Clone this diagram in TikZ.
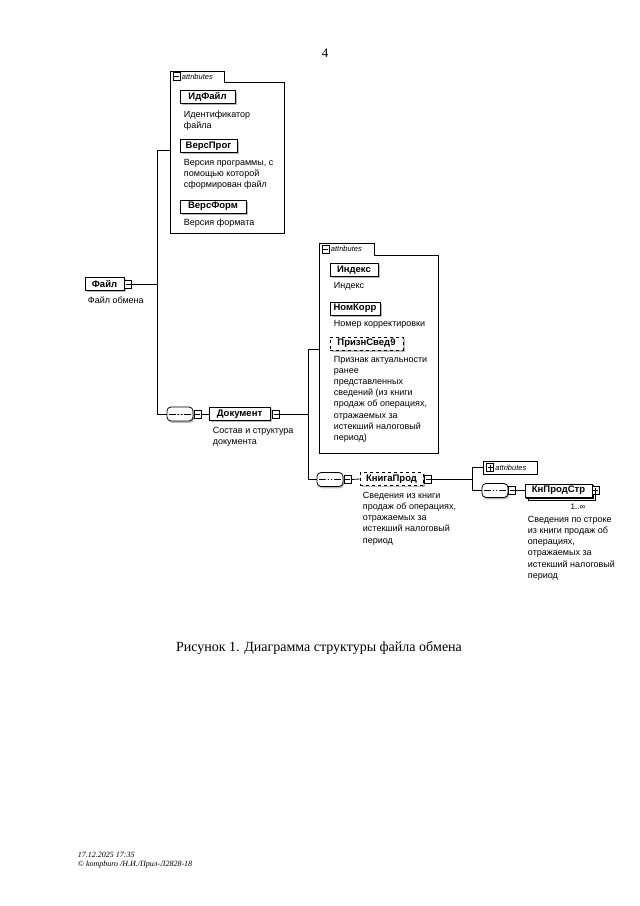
\documentclass[tikz,border=0pt]{standalone}
\usepackage{fontspec}
\setmainfont{Liberation Serif}
\newfontfamily\dgfont{Liberation Sans}
\usetikzlibrary{shadows}

\begin{document}
\begin{tikzpicture}[x=1pt,y=1pt,yscale=-1,xscale=1,
    conn/.style={line width=0.8pt},
    attrbox/.style={line width=0.8pt},
    elembase/.style={draw, fill=white, line width=0.8pt, inner xsep=3pt, inner ysep=1.5pt, minimum height=13pt, font=\dgfont\bfseries\fontsize{9.5}{11}\selectfont},
    elem/.style={elembase, drop shadow={shadow xshift=1.8pt, shadow yshift=-1.8pt, fill=gray!55, opacity=1}},
    optelem/.style={elem, dashed},
    multelem/.style={elembase, double copy shadow={shadow xshift=1.5pt, shadow yshift=-1.5pt}},
    toggle/.style={draw, fill=white, line width=0.6pt, minimum width=7pt, minimum height=8pt, inner sep=0pt},
    tglminus/.style={toggle, path picture={\draw [line width=0.5pt] ([xshift=1pt]path picture bounding box.west) -- ([xshift=-1pt]path picture bounding box.east);}},
    tglplus/.style={toggle, path picture={\draw [line width=0.5pt] ([xshift=1pt]path picture bounding box.west) -- ([xshift=-1pt]path picture bounding box.east) ([yshift=-1pt]path picture bounding box.north) -- ([yshift=1pt]path picture bounding box.south);}},
    seq/.style={draw, fill=white, rounded corners=4pt, line width=0.8pt, minimum width=26pt, minimum height=14pt, inner sep=0pt, drop shadow={shadow xshift=1.2pt, shadow yshift=-1.8pt, fill=gray!55, opacity=1},
        path picture={\draw [line width=0.7pt] ([xshift=2pt]path picture bounding box.west) -- ([xshift=-2pt]path picture bounding box.east);
            \fill ([xshift=-3.2pt]path picture bounding box.center) circle (1.1pt) (path picture bounding box.center) circle (1.1pt) ([xshift=3.2pt]path picture bounding box.center) circle (1.1pt);}},
    desc/.style={anchor=north west, inner sep=0.75pt, align=left, font=\dgfont\fontsize{9}{11.2}\selectfont},
    tabtxt/.style={anchor=west, inner sep=0.75pt, font=\dgfont\itshape\fontsize{7.5}{9}\selectfont}]

    \fill [white] (0,0) rectangle (640,906);
    \useasboundingbox (0,0) rectangle (640,906);

    % Text Node
    \draw (325,53) node (pgNum) [font=\fontsize{13}{15}\selectfont] {4};

    %Element: Файл
    \node (fajl) [elem, minimum width=39] at (104.5,284) {Файл};
    \node (fajlTgl) [tglminus] at (128,284) {};
    \draw (87,296) node (fajlTxt) [desc] {Файл обмена};

    %Shape: attributes of Файл
    \draw [attrbox] (170,71) -- (224,71) -- (224,82) -- (284,82) -- (284,233) -- (170,233) -- cycle;
    \node (attrFajlTgl) [tglminus] at (176.5,76.5) {};
    \node (attrFajlTab) [tabtxt] at (181,76.5) {attributes};
    \coordinate (attrFajlIn) at (170,150);
    \node (idFajl) [elem, minimum width=55] at (207.5,97) {ИдФайл};
    \draw (183,110) node (idFajlTxt) [desc] {Идентификатор\\файла};
    \node (versProg) [elem, minimum width=57] at (208.5,146) {ВерсПрог};
    \draw (183,158) node (versProgTxt) [desc] {Версия программы, с\\помощью которой\\сформирован файл};
    \node (versForm) [elem, minimum width=66] at (213,206.5) {ВерсФорм};
    \draw (183,218) node (versFormTxt) [desc] {Версия формата};

    %Element: Документ
    \node (seqFajl) [seq] at (180,414) {};
    \node (seqFajlTgl) [tglminus] at (197.5,414) {};
    \node (dokument) [elem, minimum width=61] at (239.5,414) {Документ};
    \node (dokumentTgl) [tglminus] at (276,414) {};
    \draw (212,426) node (dokumentTxt) [desc] {Состав и структура\\документа};

    %Connectors of Файл
    \coordinate (busFajl) at (157,284);
    \draw [conn] (fajlTgl.east) -- (busFajl);
    \draw [conn] (busFajl) |- (attrFajlIn);
    \draw [conn] (busFajl) |- (seqFajl.west);
    \draw [conn] (seqFajlTgl.east) -- (dokument.west);

    %Shape: attributes of Документ
    \draw [attrbox] (319,243) -- (374,243) -- (374,255) -- (438,255) -- (438,453) -- (319,453) -- cycle;
    \node (attrDokTgl) [tglminus] at (325.5,249) {};
    \node (attrDokTab) [tabtxt] at (330,249) {attributes};
    \coordinate (attrDokIn) at (319,349);
    \node (indeks) [elem, minimum width=48] at (354,270) {Индекс};
    \draw (333,281) node (indeksTxt) [desc] {Индекс};
    \node (nomKorr) [elem, minimum width=50] at (355,308.5) {НомКорр};
    \draw (333,319) node (nomKorrTxt) [desc] {Номер корректировки};
    \node (priznSved) [optelem, minimum width=73] at (366.5,343.5) {ПризнСвед9};
    \draw (333,355) node (priznSvedTxt) [desc] {Признак актуальности\\ранее\\представленных\\сведений (из книги\\продаж об операциях,\\отражаемых за\\истекший налоговый\\период)};

    %Element: КнигаПрод
    \node (seqDok) [seq] at (330,479.5) {};
    \node (seqDokTgl) [tglminus] at (347.5,479.5) {};
    \node (knigaProd) [optelem, minimum width=63] at (391.5,479) {КнигаПрод};
    \node (knigaProdTgl) [tglminus] at (428,479) {};
    \draw (362,491) node (knigaProdTxt) [desc] {Сведения из книги\\продаж об операциях,\\отражаемых за\\истекший налоговый\\период};

    %Connectors of Документ
    \coordinate (busDok) at (308,414);
    \draw [conn] (dokumentTgl.east) -- (busDok);
    \draw [conn] (busDok) |- (attrDokIn);
    \draw [conn] (busDok) |- (seqDok.west);
    \draw [conn] (seqDokTgl.east) -- (knigaProd.west);

    %Element: КнПродСтр
    \node (attrKniga) [draw, fill=white, line width=0.8pt, minimum width=54pt, minimum height=13pt, inner sep=0pt] at (510,467.5) {};
    \node (attrKnigaTgl) [tglplus] at (490,467.5) {};
    \node (attrKnigaTab) [tabtxt] at (494.5,467.5) {attributes};
    \node (seqKniga) [seq] at (495,490.5) {};
    \node (seqKnigaTgl) [tglminus] at (512,490.5) {};
    \node (knProdStr) [multelem, minimum width=67] at (558.5,490.5) {КнПродСтр};
    \node (knProdStrTgl) [tglplus] at (595.5,490.5) {};
    \draw (578,507) node (knProdStrMult) [font=\dgfont\fontsize{8}{9}\selectfont, inner sep=0.75pt] {1..∞};
    \draw (527,515) node (knProdStrTxt) [desc] {Сведения по строке\\из книги продаж об\\операциях,\\отражаемых за\\истекший налоговый\\период};

    %Connectors of КнигаПрод
    \coordinate (busKniga) at (472,479);
    \draw [conn] (knigaProdTgl.east) -- (busKniga);
    \draw [conn] (busKniga) |- (attrKniga.west);
    \draw [conn] (busKniga) |- (seqKniga.west);
    \draw [conn] (seqKnigaTgl.east) -- (knProdStr.west);

    % Text Node
    \draw (319,648) node (caption) [font=\fontsize{14}{16}\selectfont] {Рисунок 1. Диаграмма структуры файла обмена};
    % Text Node
    \draw (77,851) node (stamp) [anchor=north west, inner sep=0.75pt, align=left, font=\itshape\fontsize{8}{9.2}\selectfont] {17.12.2025 17:35\\© kompburo /Н.И./Прил-Л2828-18};

\end{tikzpicture}
\end{document}
